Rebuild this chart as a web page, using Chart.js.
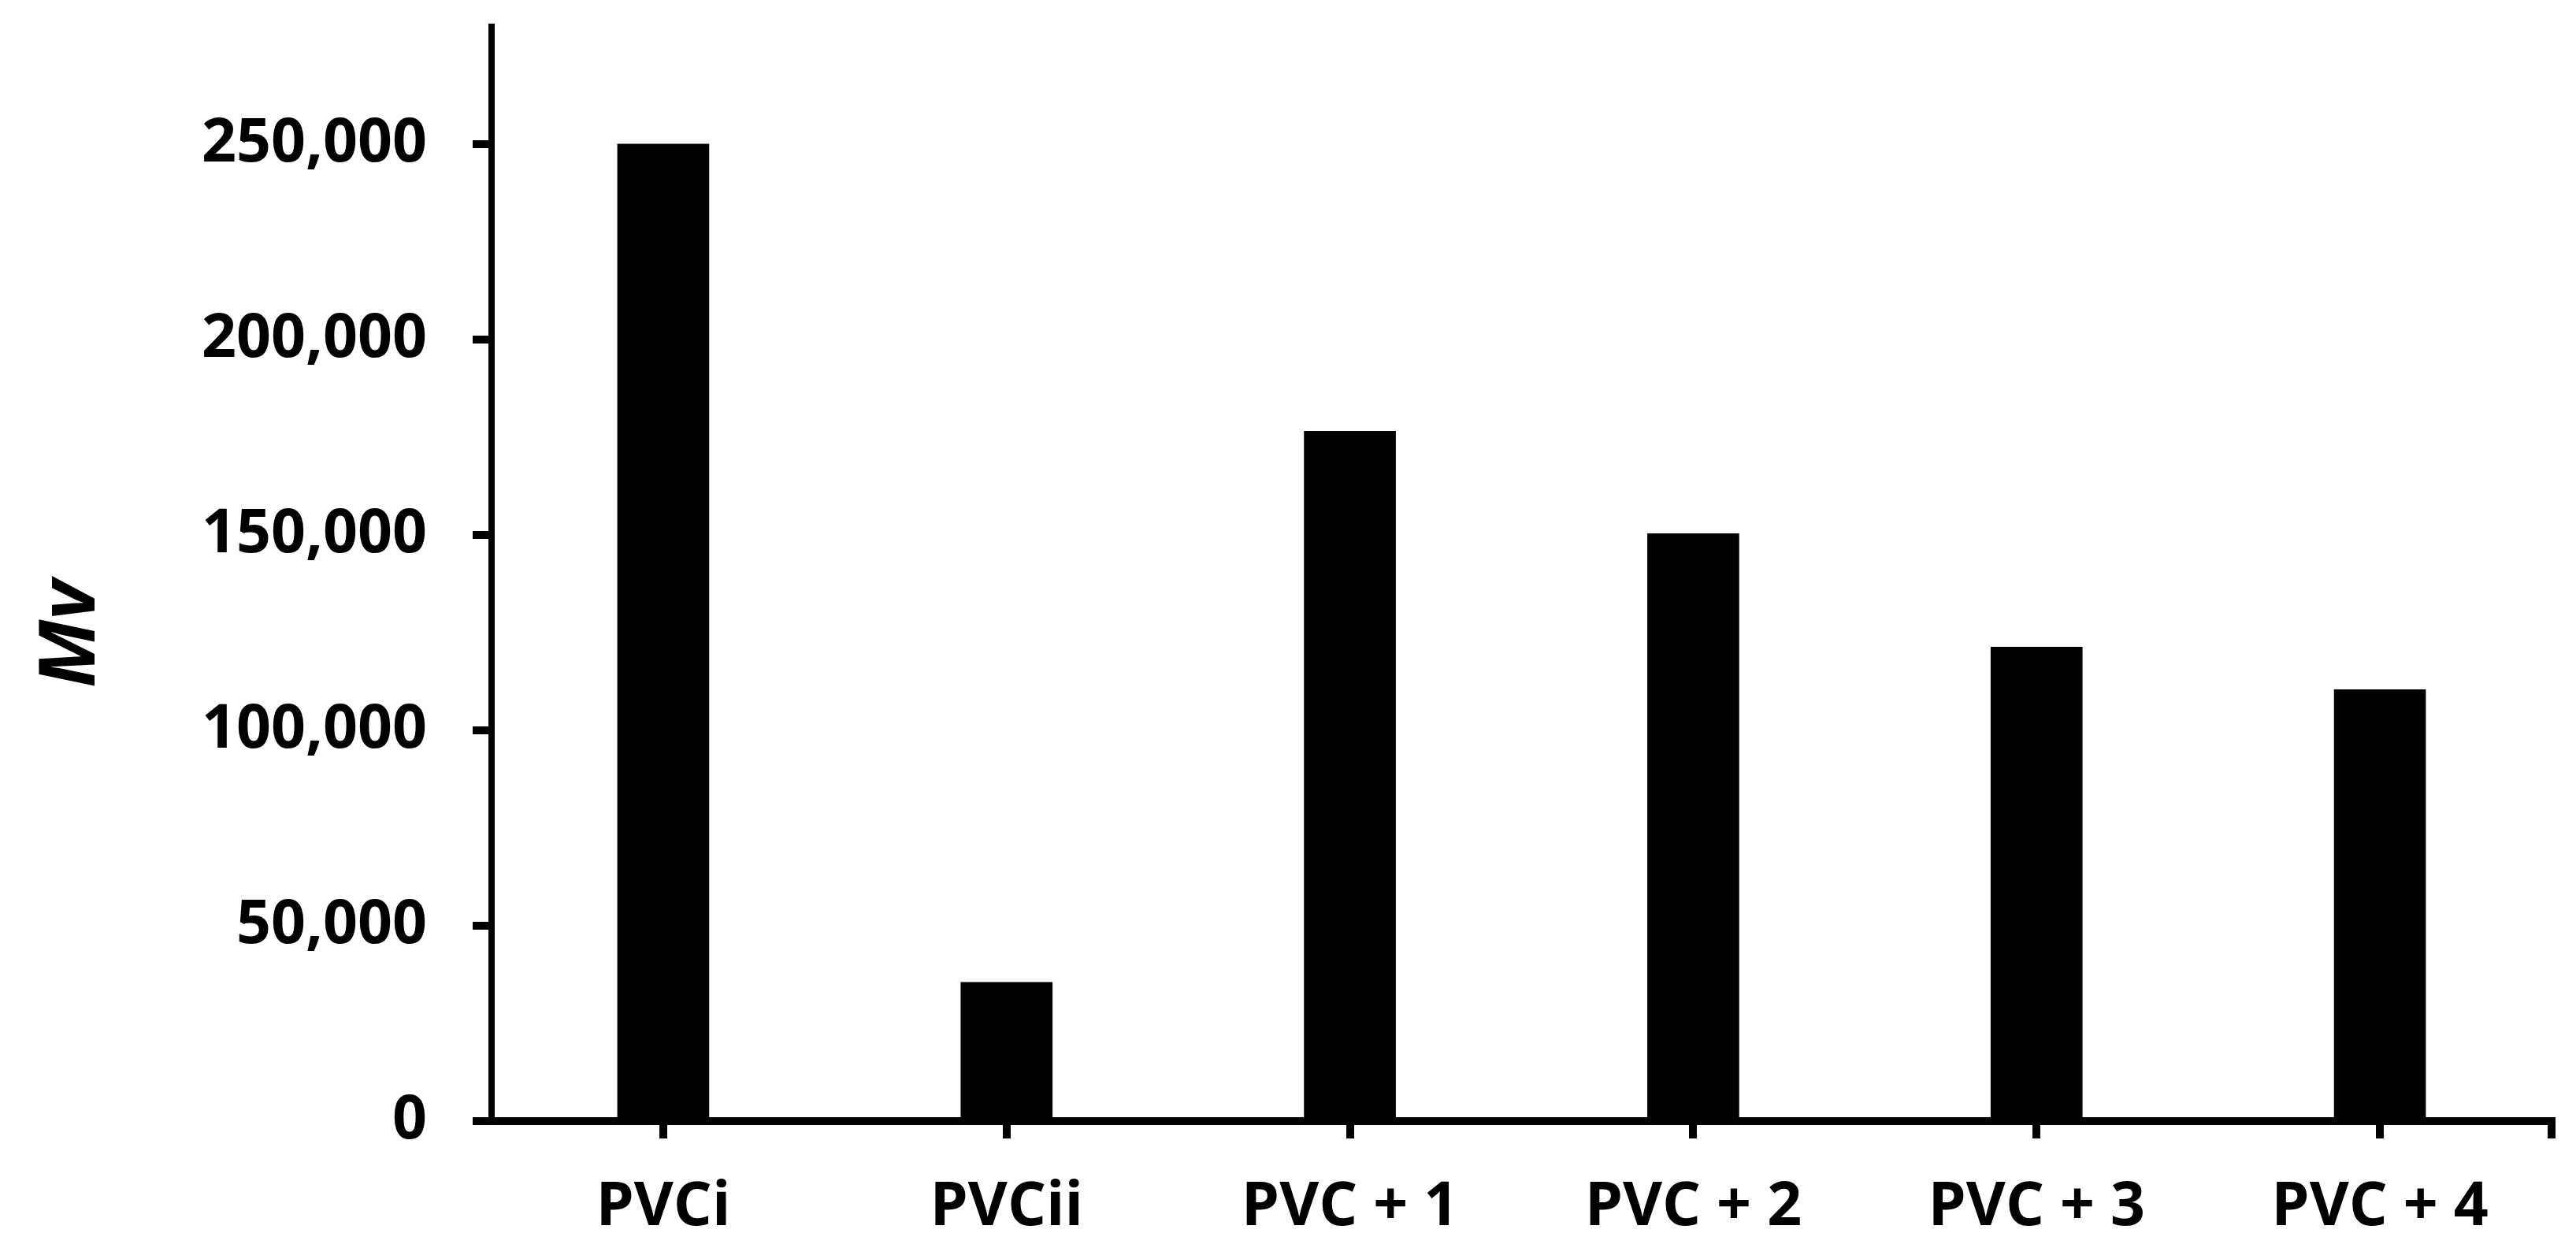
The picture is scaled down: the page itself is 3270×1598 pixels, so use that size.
<!DOCTYPE html>
<html>
<head>
<meta charset="utf-8">
<style>
  html, body { margin: 0; padding: 0; background: #fff; }
  #wrap { width: 3270px; height: 1598px; position: relative; }
</style>
<script src="https://cdn.jsdelivr.net/npm/chart.js@4/dist/chart.umd.min.js"></script>
</head>
<body>
<div id="wrap"><canvas id="chart"></canvas></div>
<script>
const categories = ["PVCi", "PVCii", "PVC + 1", "PVC + 2", "PVC + 3", "PVC + 4"];
const mvValues = [250000, 35500, 176500, 150300, 121300, 110400];
const yTicks = [0, 50000, 100000, 150000, 200000, 250000];
const yMax = 280000;

const fontFamily = "'Open Sans', 'Noto Sans', sans-serif";

new Chart(document.getElementById("chart"), {
  type: "bar",
  data: {
    labels: categories,
    datasets: [
      {
        label: "Mv",
        data: mvValues,
        backgroundColor: "#000",
        borderWidth: 0,
        barThickness: 116
      }
    ]
  },
  options: {
    responsive: true,
    maintainAspectRatio: false,
    animation: false,
    layout: { padding: { top: 34, right: 31, left: 0, bottom: 0 } },
    plugins: {
      legend: { display: false },
      tooltip: { enabled: false }
    },
    scales: {
      x: {
        offset: true,
        grid: {
          display: true,
          offset: false,
          drawOnChartArea: false,
          drawTicks: true,
          tickLength: 22,
          lineWidth: 10,
          color: "#000"
        },
        border: { display: true, color: "#000", width: 10 },
        ticks: {
          autoSkip: false,
          maxRotation: 0,
          padding: 42,
          color: "#000",
          font: { family: fontFamily, size: 77, weight: "bold" },
          callback: function (value) {
            return Number.isInteger(value) ? this.getLabelForValue(value) : "";
          }
        },
        afterBuildTicks: (scale) => {
          // extra tick mark at the right end of the axis
          scale.ticks.push({ value: categories.length - 0.5 });
        },
        afterFit: (scale) => {
          scale.height = 175;
          scale.paddingLeft = 0;
          scale.paddingRight = 0;
        }
      },
      y: {
        min: 0,
        max: yMax,
        bounds: "data",
        grid: {
          display: true,
          drawOnChartArea: false,
          drawTicks: true,
          tickLength: 24,
          lineWidth: 10,
          color: "#000"
        },
        border: { display: true, color: "#000", width: 8 },
        ticks: {
          padding: 58,
          color: "#000",
          font: { family: fontFamily, size: 77, weight: "bold" },
          callback: (value) => value.toLocaleString("en-US")
        },
        afterBuildTicks: (scale) => {
          scale.ticks = yTicks.map((v) => ({ value: v }));
        },
        title: {
          display: true,
          text: "Mv      ",
          color: "#000",
          padding: { top: 33, bottom: 0 },
          font: { family: fontFamily, size: 98, weight: "bold", style: "italic" }
        },
        afterFit: (scale) => {
          scale.width = 624;
          scale.paddingTop = 0;
          scale.paddingBottom = 0;
        }
      }
    }
  }
});
</script>
</body>
</html>
